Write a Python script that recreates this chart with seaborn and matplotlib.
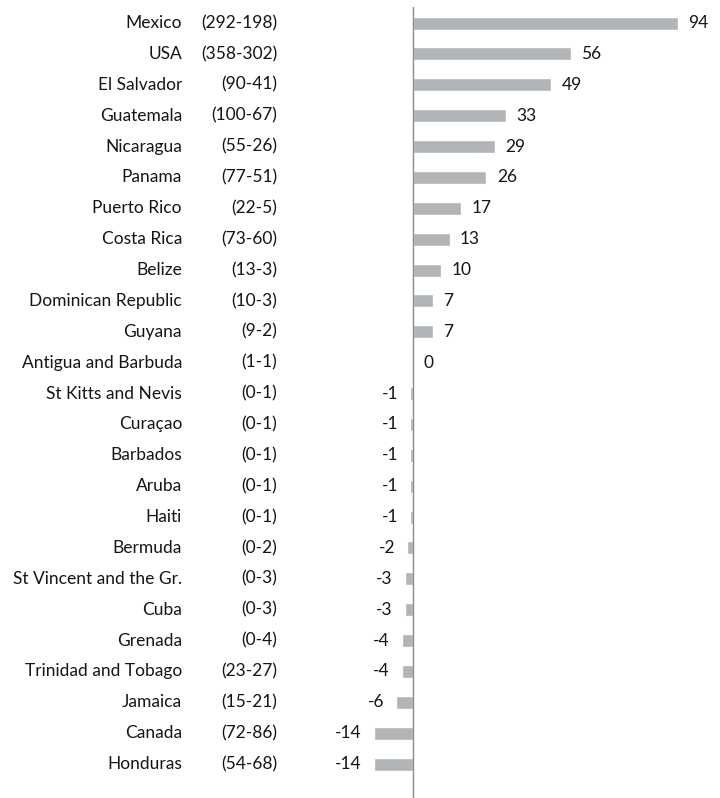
import matplotlib
matplotlib.use("Agg")
import matplotlib.pyplot as plt
import matplotlib.transforms as mtransforms
import seaborn as sns
import pandas as pd

countries = ["Mexico", "USA", "El Salvador", "Guatemala", "Nicaragua", "Panama",
             "Puerto Rico", "Costa Rica", "Belize", "Dominican Republic", "Guyana",
             "Antigua and Barbuda", "St Kitts and Nevis", "Curaçao", "Barbados",
             "Aruba", "Haiti", "Bermuda", "St Vincent and the Gr.", "Cuba", "Grenada",
             "Trinidad and Tobago", "Jamaica", "Canada", "Honduras"]
ranges = ["(292-198)", "(358-302)", "(90-41)", "(100-67)", "(55-26)", "(77-51)",
          "(22-5)", "(73-60)", "(13-3)", "(10-3)", "(9-2)", "(1-1)", "(0-1)",
          "(0-1)", "(0-1)", "(0-1)", "(0-1)", "(0-2)", "(0-3)", "(0-3)", "(0-4)",
          "(23-27)", "(15-21)", "(72-86)", "(54-68)"]
values = [94, 56, 49, 33, 29, 26, 17, 13, 10, 7, 7, 0, -1, -1, -1, -1, -1, -2,
          -3, -3, -4, -4, -6, -14, -14]

df = pd.DataFrame({"country": countries, "value": values})

sns.set_style("white")
plt.rcParams["font.family"] = ["Lato", "DejaVu Sans"]

W, H = 720, 798
fig = plt.figure(figsize=(W / 100, H / 100), dpi=100)
ax_left, ax_right = 340, 700
ax = fig.add_axes([ax_left / W, 0, (ax_right - ax_left) / W, 1 - 7 / H])

bar_color = "#b1b5b8"
sns.barplot(data=df, y="country", x="value", orient="h", color=bar_color,
            width=0.42, saturation=1, ax=ax, order=countries)

px_per_unit = 2.82
zero_px = 413
ax.set_xlim((ax_left - zero_px) / px_per_unit, (ax_right - zero_px) / px_per_unit)
ax.set_ylim(len(countries) - 1 + 1.1, -0.52)

ax.axvline(0, color="#8a8a8a", lw=1.0, zorder=3)
for s in ax.spines.values():
    s.set_visible(False)
ax.set_xticks([])
ax.set_yticks([])
ax.set_xlabel("")
ax.set_ylabel("")

fs = 12.5
txt_color = "#151515"
trans = mtransforms.blended_transform_factory(fig.transFigure, ax.transData)
for i, (name, rng, v) in enumerate(zip(countries, ranges, values)):
    ax.text(182 / W, i, name, transform=trans, ha="right", va="center",
            fontsize=fs, color=txt_color)
    ax.text(277 / W, i, rng, transform=trans, ha="right", va="center",
            fontsize=fs, color=txt_color)
    if v >= 0:
        ax.annotate(f"{v}", (v, i), xytext=(7.5, 0), textcoords="offset points",
                    ha="left", va="center", fontsize=fs, color=txt_color)
    else:
        ax.annotate(f"{v}", (v, i), xytext=(-8.5, 0), textcoords="offset points",
                    ha="right", va="center", fontsize=fs, color=txt_color)

fig.savefig("out.png", dpi=100, facecolor="white")
